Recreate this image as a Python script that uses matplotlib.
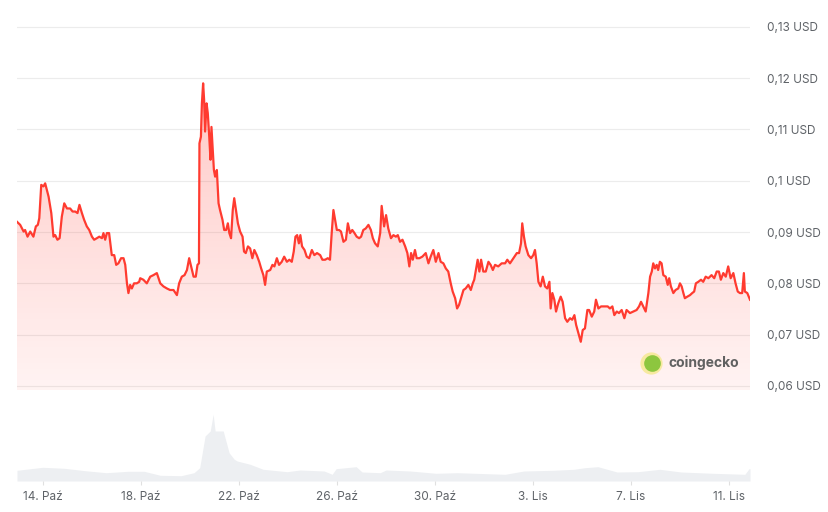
import numpy as np
import matplotlib.pyplot as plt
from matplotlib.patches import Polygon
from matplotlib.lines import Line2D

# days counted from 14. Paź 00:00
days = [-1.07, -0.94, -0.80, -0.74, -0.64, -0.53, -0.40, -0.30, -0.22, -0.16, -0.08, 0.01, 0.08, 0.15, 0.22,
        0.33, 0.42, 0.49, 0.58, 0.67, 0.76, 0.86, 0.97, 1.10, 1.20, 1.31, 1.40, 1.48, 1.58, 1.67, 1.78, 1.88,
        1.99, 2.08, 2.19, 2.29, 2.40, 2.46, 2.53, 2.60, 2.69, 2.80, 2.90, 2.98, 3.07, 3.18, 3.28, 3.35, 3.42,
        3.48, 3.55, 3.62, 3.71, 3.82, 3.92, 3.96, 4.09, 4.23, 4.37, 4.50, 4.64, 4.78, 4.91, 5.05, 5.18, 5.32,
        5.46, 5.55, 5.66, 5.77, 5.87, 5.96, 6.04, 6.14, 6.23, 6.30, 6.36, 6.38, 6.44, 6.48, 6.53, 6.57, 6.61,
        6.67, 6.72, 6.78, 6.83, 6.87, 6.93, 6.97, 7.02, 7.09, 7.16, 7.22, 7.32, 7.39, 7.47, 7.54, 7.60, 7.67,
        7.74, 7.80, 7.87, 7.95, 8.04, 8.14, 8.20, 8.27, 8.36, 8.45, 8.54, 8.62, 8.72, 8.82, 8.90, 8.99, 9.06,
        9.13, 9.27, 9.36, 9.44, 9.54, 9.63, 9.74, 9.84, 9.95, 10.05, 10.15, 10.23, 10.30, 10.37, 10.44, 10.50,
        10.57, 10.67, 10.76, 10.86, 10.97, 11.07, 11.18, 11.31, 11.40, 11.51, 11.62, 11.71, 11.78, 11.85, 11.92,
        11.99, 12.08, 12.16, 12.26, 12.36, 12.44, 12.53, 12.62, 12.71, 12.80, 12.90, 12.98, 13.07, 13.17, 13.28,
        13.38, 13.46, 13.55, 13.66, 13.76, 13.82, 13.92, 14.00, 14.09, 14.20, 14.30, 14.40, 14.48, 14.57, 14.67,
        14.78, 14.87, 14.95, 15.02, 15.09, 15.18, 15.25, 15.36, 15.48, 15.62, 15.73, 15.82, 15.93, 16.03, 16.14,
        16.23, 16.34, 16.44, 16.54, 16.64, 16.72, 16.82, 16.90, 16.98, 17.06, 17.16, 17.25, 17.36, 17.46, 17.54,
        17.60, 17.67, 17.74, 17.81, 17.88, 17.97, 18.07, 18.18, 18.27, 18.36, 18.45, 18.58, 18.72, 18.86, 18.95,
        19.06, 19.20, 19.34, 19.43, 19.51, 19.56, 19.63, 19.70, 19.81, 19.92, 20.01, 20.08, 20.15, 20.22, 20.31,
        20.40, 20.49, 20.58, 20.67, 20.72, 20.79, 20.87, 20.94, 21.03, 21.13, 21.21, 21.31, 21.40, 21.51, 21.60,
        21.69, 21.76, 21.85, 21.95, 22.03, 22.12, 22.22, 22.29, 22.40, 22.50, 22.57, 22.67, 22.78, 22.91, 23.05,
        23.14, 23.24, 23.32, 23.42, 23.51, 23.62, 23.73, 23.82, 23.96, 24.09, 24.23, 24.33, 24.41, 24.50, 24.60,
        24.71, 24.78, 24.85, 24.91, 24.98, 25.05, 25.11, 25.18, 25.25, 25.32, 25.42, 25.50, 25.56, 25.63, 25.73,
        25.82, 25.93, 26.00, 26.07, 26.14, 26.20, 26.30, 26.41, 26.50, 26.58, 26.65, 26.75, 26.86, 26.95, 27.05,
        27.16, 27.29, 27.40, 27.50, 27.59, 27.67, 27.77, 27.87, 27.97, 28.07, 28.18, 28.27, 28.36, 28.45, 28.54,
        28.61, 28.65, 28.75, 28.86]

prices = [0.0920, 0.0914, 0.0901, 0.0904, 0.0891, 0.0901, 0.0891, 0.0911, 0.0914, 0.0927, 0.0992, 0.0989, 0.0995,
          0.0982, 0.0969, 0.0937, 0.0891, 0.0894, 0.0885, 0.0888, 0.0930, 0.0956, 0.0946, 0.0946, 0.0940, 0.0940,
          0.0937, 0.0953, 0.0937, 0.0924, 0.0911, 0.0904, 0.0891, 0.0885, 0.0888, 0.0891, 0.0888, 0.0898, 0.0885,
          0.0898, 0.0898, 0.0855, 0.0855, 0.0836, 0.0839, 0.0849, 0.0849, 0.0836, 0.0800, 0.0781, 0.0797, 0.0790,
          0.0800, 0.0800, 0.0803, 0.0810, 0.0807, 0.0800, 0.0813, 0.0816, 0.0820, 0.0800, 0.0794, 0.0790, 0.0787,
          0.0787, 0.0777, 0.0800, 0.0813, 0.0816, 0.0826, 0.0849, 0.0833, 0.0813, 0.0813, 0.0836, 0.0839, 0.1073,
          0.1086, 0.1151, 0.1190, 0.1158, 0.1096, 0.1151, 0.1132, 0.1086, 0.1041, 0.1105, 0.1054, 0.1021, 0.1008,
          0.1021, 0.0956, 0.0943, 0.0924, 0.0904, 0.0904, 0.0917, 0.0898, 0.0888, 0.0943, 0.0966, 0.0943, 0.0917,
          0.0901, 0.0891, 0.0862, 0.0859, 0.0872, 0.0868, 0.0849, 0.0865, 0.0855, 0.0842, 0.0829, 0.0816, 0.0797,
          0.0823, 0.0826, 0.0836, 0.0833, 0.0849, 0.0836, 0.0842, 0.0852, 0.0842, 0.0846, 0.0842, 0.0862, 0.0891,
          0.0894, 0.0878, 0.0894, 0.0872, 0.0865, 0.0852, 0.0849, 0.0865, 0.0855, 0.0859, 0.0855, 0.0846, 0.0846,
          0.0849, 0.0846, 0.0898, 0.0943, 0.0924, 0.0904, 0.0904, 0.0901, 0.0881, 0.0885, 0.0917, 0.0898, 0.0904,
          0.0898, 0.0891, 0.0888, 0.0891, 0.0904, 0.0907, 0.0914, 0.0904, 0.0888, 0.0878, 0.0872, 0.0898, 0.0951,
          0.0911, 0.0933, 0.0907, 0.0888, 0.0894, 0.0891, 0.0894, 0.0881, 0.0885, 0.0872, 0.0859, 0.0833, 0.0859,
          0.0846, 0.0865, 0.0849, 0.0849, 0.0852, 0.0859, 0.0839, 0.0852, 0.0865, 0.0842, 0.0859, 0.0842, 0.0839,
          0.0829, 0.0823, 0.0800, 0.0784, 0.0771, 0.0751, 0.0758, 0.0771, 0.0787, 0.0790, 0.0797, 0.0787, 0.0800,
          0.0807, 0.0826, 0.0846, 0.0823, 0.0846, 0.0823, 0.0823, 0.0842, 0.0836, 0.0826, 0.0836, 0.0833, 0.0839,
          0.0839, 0.0846, 0.0839, 0.0849, 0.0859, 0.0859, 0.0878, 0.0917, 0.0891, 0.0872, 0.0855, 0.0849, 0.0855,
          0.0865, 0.0839, 0.0803, 0.0794, 0.0813, 0.0794, 0.0790, 0.0803, 0.0751, 0.0781, 0.0768, 0.0745, 0.0761,
          0.0774, 0.0764, 0.0732, 0.0725, 0.0732, 0.0729, 0.0738, 0.0719, 0.0703, 0.0686, 0.0709, 0.0712, 0.0748,
          0.0748, 0.0735, 0.0745, 0.0768, 0.0751, 0.0755, 0.0755, 0.0755, 0.0751, 0.0755, 0.0738, 0.0745, 0.0742,
          0.0748, 0.0732, 0.0748, 0.0742, 0.0745, 0.0748, 0.0755, 0.0764, 0.0755, 0.0745, 0.0781, 0.0813, 0.0823,
          0.0839, 0.0829, 0.0836, 0.0826, 0.0842, 0.0839, 0.0816, 0.0813, 0.0797, 0.0810, 0.0794, 0.0781, 0.0787,
          0.0790, 0.0800, 0.0794, 0.0781, 0.0771, 0.0774, 0.0777, 0.0781, 0.0784, 0.0800, 0.0803, 0.0807, 0.0803,
          0.0813, 0.0810, 0.0816, 0.0810, 0.0823, 0.0823, 0.0807, 0.0820, 0.0813, 0.0833, 0.0810, 0.0820, 0.0800,
          0.0784, 0.0781, 0.0781, 0.0820, 0.0784, 0.0781, 0.0768]

vol_days = [-1.07, -0.02, 0.86, 1.71, 2.57, 3.47, 4.12, 4.78, 5.63, 6.16, 6.39, 6.61, 6.82, 6.94, 7.02, 7.35,
            7.59, 7.80, 7.92, 8.45, 8.98, 9.96, 10.49, 11.47, 11.80, 11.96, 12.78, 13.02, 13.76, 14.00, 14.98,
            16.04, 16.90, 18.86, 19.63, 20.82, 21.67, 22.12, 22.65, 23.43, 24.29, 25.18, 26.04, 27.35, 28.65,
            28.82, 28.86]
volumes = [10.7, 13.7, 12.7, 10.3, 8.3, 9.7, 9.7, 5.7, 5.3, 8.3, 13.3, 45, 50, 66.7, 50, 50, 28.3, 21.7, 20,
           16.7, 11.7, 9.3, 11, 10, 6.7, 12.3, 14.3, 9, 8.3, 11, 10, 7.7, 8.3, 6.7, 10, 10.7, 11.7, 13.3, 14.3,
           9, 9.3, 11.7, 9, 7.7, 6.7, 12.3, 12.3]

tick_days = [0, 4, 8, 12, 16, 20, 24, 28]
tick_labels = ["14. Paź", "18. Paź", "22. Paź", "26. Paź", "30. Paź", "3. Lis", "7. Lis", "11. Lis"]
price_ticks = [0.06, 0.07, 0.08, 0.09, 0.10, 0.11, 0.12, 0.13]
price_labels = ["0,06 USD", "0,07 USD", "0,08 USD", "0,09 USD", "0,1 USD", "0,11 USD", "0,12 USD", "0,13 USD"]

plt.rcParams['font.family'] = ['Inter', 'DejaVu Sans']
W, H = 829, 512
fig = plt.figure(figsize=(W / 100, H / 100), dpi=100)

x0, x1 = 17 / W, 750 / W
ax = fig.add_axes([x0, 1 - 390 / H, x1 - x0, 380 / H])
vax = fig.add_axes([x0, 1 - 481 / H, x1 - x0, 76 / H])

xmin, xmax = days[0], days[-1]
ymin, ymax = 0.0592, 0.1333

# price line + gradient fill
ax.set_xlim(xmin, xmax)
ax.set_ylim(ymin, ymax)
ax.plot(days, prices, color="#ff3b30", lw=1.6, solid_joinstyle="round", zorder=3)

poly = Polygon(np.column_stack([[xmin] + days + [xmax], [ymin] + prices + [ymin]]),
               closed=True, facecolor="none", edgecolor="none")
ax.add_patch(poly)
grad = np.zeros((256, 1, 4))
grad[:, 0, 0] = 1.0
grad[:, 0, 1] = 0.23
grad[:, 0, 2] = 0.19
grad[:, 0, 3] = np.linspace(0.28, 0.06, 256)
im = ax.imshow(grad, extent=[xmin, xmax, ymin, 0.12], aspect="auto", origin="upper", zorder=1)
im.set_clip_path(poly)

ax.set_yticks(price_ticks)
ax.set_yticklabels(price_labels)
ax.yaxis.tick_right()
ax.tick_params(axis="y", length=0, pad=12, labelsize=8.5, labelcolor="#5f6368")
ax.set_xticks([])
ax.grid(axis="y", color="#ececec", lw=0.8)
ax.set_axisbelow(True)
for s in ax.spines.values():
    s.set_visible(False)
ax.patch.set_alpha(0)

# volume
vax.set_xlim(xmin, xmax)
vax.set_ylim(0, 76)
vax.fill_between(vol_days, volumes, 0, color="#edeff2", lw=0)
vax.set_yticks([])
vax.set_xticks(tick_days)
vax.set_xticklabels(tick_labels)
vax.tick_params(axis="x", length=3, color="#e0e0e0", pad=4, labelsize=8.5, labelcolor="#5f6368")
for s in vax.spines.values():
    s.set_visible(False)
vax.patch.set_alpha(0)

# watermark
lx, ly = 651 / W, 1 - 363 / H
fig.add_artist(Line2D([lx], [ly], marker="o", markersize=16, markerfacecolor="#f7e9a0",
                      markeredgecolor="none", transform=fig.transFigure, zorder=5))
fig.add_artist(Line2D([lx + 1 / W], [ly], marker="o", markersize=12, markerfacecolor="#8dc63f",
                      markeredgecolor="none", transform=fig.transFigure, zorder=6))
fig.text(669 / W, ly, "coingecko", fontsize=10, fontweight="bold", color="#616161",
         va="center", ha="left")

fig.savefig("out.png", dpi=100)
